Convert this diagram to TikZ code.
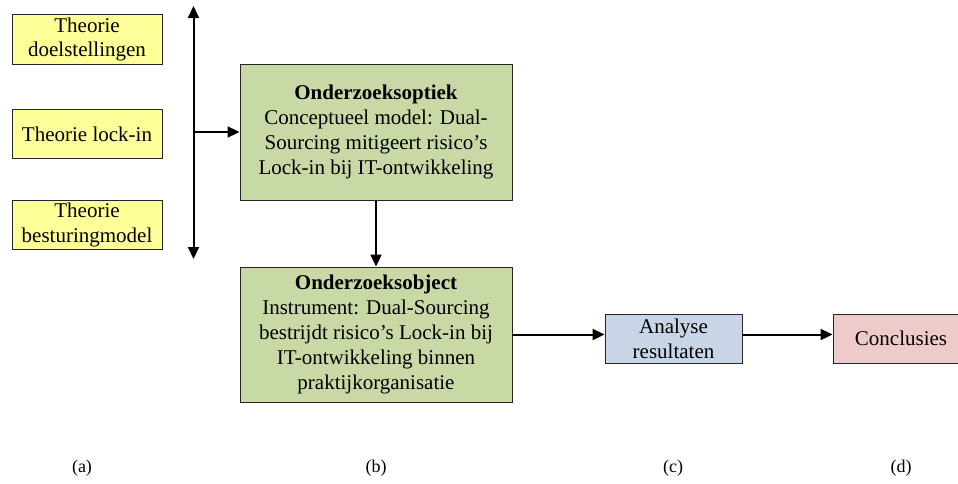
\documentclass[tikz,border=0pt]{standalone}
\usepackage{fontspec}
\setmainfont{Liberation Serif}
\usetikzlibrary{arrows.meta}
\definecolor{theoryfill}{HTML}{FFFF99}
\definecolor{studyfill}{HTML}{C9D9A6}
\definecolor{analysisfill}{HTML}{C8D5E6}
\definecolor{resultfill}{HTML}{EDCBCA}
\definecolor{edge}{HTML}{262626}
\tikzset{
  box/.style={draw=edge, line width=0.9pt, align=center, inner sep=0pt,
    font=\fontsize{21}{24.8}\selectfont},
  theorybox/.style={box, fill=theoryfill, minimum width=150, minimum height=49.5},
  studybox/.style={box, fill=studyfill, minimum width=272, minimum height=136},
  smallbox/.style={box, minimum width=137, minimum height=49},
  tip/.tip={Triangle[length=12pt,width=11pt]},
  flow/.style={line width=2pt, -tip},
  tag/.style={font=\fontsize{18}{21}\selectfont}
}
\begin{document}
\begin{tikzpicture}[x=1pt, y=-1pt]
  \clip (0,0) rectangle (958,483);

  % theory inputs
  \node[theorybox] (doel) at (87,39.5) {Theorie\\doelstellingen};
  \node[theorybox] (lock) at (87,134) {Theorie lock-in};
  \node[theorybox] (best) at (87,225) {Theorie\\besturingmodel};

  % research lens and research object
  \node[studybox] (optiek) at (376,132)
    {\textbf{Onderzoeksoptiek}\\Conceptueel model: Dual-\\Sourcing mitigeert risico’s\\Lock-in bij IT-ontwikkeling};
  \node[studybox, minimum height=135] (object) at (376,334.5)
    {\textbf{Onderzoeksobject}\\Instrument: Dual-Sourcing\\bestrijdt risico’s Lock-in bij\\IT-ontwikkeling binnen\\praktijkorganisatie};

  % analysis and conclusions
  \node[smallbox, fill=analysisfill] (analyse) at (673.5,338.5) {Analyse\\resultaten};
  \node[smallbox, fill=resultfill, minimum width=136] (concl) at (901,338.5) {Conclusies};

  % theory bus with its two-way arrow
  \coordinate (bustop) at (193.5,6);
  \coordinate (busbot) at (193.5,259);
  \coordinate (busmid) at (193.5,132);
  \draw[line width=2pt, tip-tip] (bustop) -- (busbot);

  % connectors
  \draw[flow] (busmid) -- (optiek.west);
  \draw[flow] (optiek.south) -- (object.north);
  \draw[flow] (object.east) -- (object.east -| analyse.west);
  \draw[flow] (analyse.east |- object.east) -- (concl.west |- object.east);

  % column labels
  \node[tag] (la) at (82,468) {(a)};
  \node[tag] (lb) at (376,468) {(b)};
  \node[tag] (lc) at (673,468) {(c)};
  \node[tag] (ld) at (901,468) {(d)};
\end{tikzpicture}
\end{document}
